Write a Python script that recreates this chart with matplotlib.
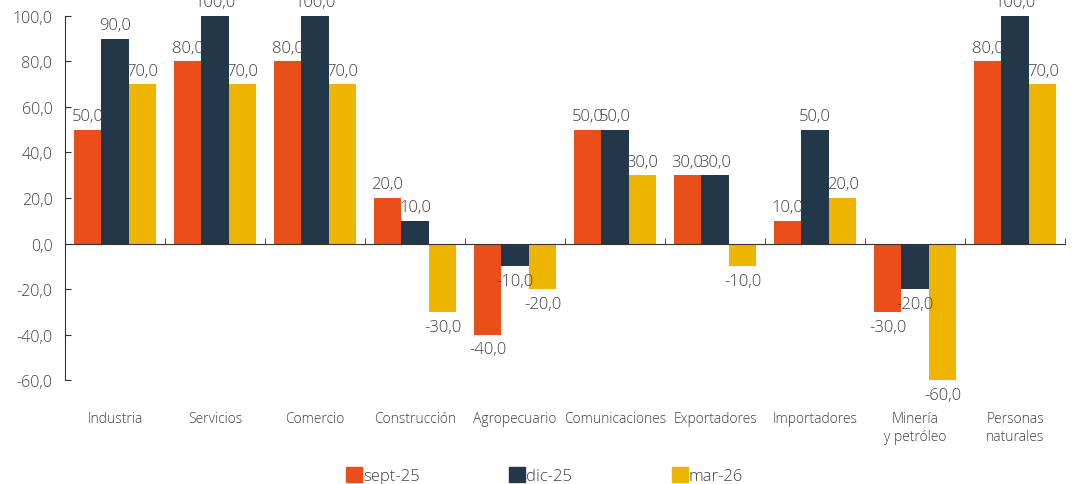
import matplotlib.pyplot as plt
import numpy as np
from matplotlib.patches import Patch

plt.rcParams['font.family'] = ['Open Sans', 'DejaVu Sans']
plt.rcParams['font.weight'] = 'light'

categories = ['Industria', 'Servicios', 'Comercio', 'Construcción', 'Agropecuario',
              'Comunicaciones', 'Exportadores', 'Importadores', 'Minería\ny petróleo',
              'Personas\nnaturales']
series_names = ['sept-25', 'dic-25', 'mar-26']
sept25 = [50, 80, 80, 20, -40, 50, 30, 10, -30, 80]
dic25 = [90, 100, 100, 10, -10, 50, 30, 50, -20, 100]
mar26 = [70, 70, 70, -30, -20, 30, -10, 20, -60, 70]
colors = ['#E94E1B', '#22384A', '#EEB500']
text_color = '#404040'

fig = plt.figure(figsize=(10.72, 4.85), dpi=100)
ax = fig.add_axes([0.0606, 0.2144, 0.9329, 0.7506])

x = np.arange(len(categories))
width = 0.275
offsets = [-width, 0, width]

for vals, off, col in zip([sept25, dic25, mar26], offsets, colors):
    bars = ax.bar(x + off, vals, width, color=col)
    for b, v in zip(bars, vals):
        label = f'{v:.1f}'.replace('.', ',')
        if v >= 0:
            ax.annotate(label, (b.get_x() + b.get_width() / 2, v), xytext=(0, 4),
                        textcoords='offset points', ha='center', va='bottom',
                        fontsize=12, color=text_color)
        else:
            ax.annotate(label, (b.get_x() + b.get_width() / 2, v), xytext=(0, -5),
                        textcoords='offset points', ha='center', va='top',
                        fontsize=12, color=text_color)

ax.set_xlim(-0.5, len(categories) - 0.5)
ax.set_ylim(-60, 100)
ax.set_yticks(np.arange(-60, 101, 20))
ax.set_yticklabels([f'{t:.1f}'.replace('.', ',') for t in np.arange(-60, 101, 20)])
ax.tick_params(axis='y', direction='in', length=4, pad=9, labelsize=11.5,
               labelcolor=text_color, color='#333333')

# x axis line sits at zero, boundary ticks point up
ax.spines['bottom'].set_position(('data', 0))
ax.spines['top'].set_visible(False)
ax.spines['right'].set_visible(False)
ax.spines['left'].set_color('#333333')
ax.spines['bottom'].set_color('#333333')
ax.set_xticks([])
ax.set_xticks(np.arange(-0.5, len(categories), 1), minor=True)
ax.tick_params(axis='x', which='minor', direction='in', length=4, color='#333333')

for xi, cat in zip(x, categories):
    ax.text(xi, -0.085, cat, transform=ax.get_xaxis_transform(), ha='center', va='top',
            fontsize=10, color=text_color, linespacing=1.3)

# one legend per series, evenly spaced like the original
for i, (c, n) in enumerate(zip(colors, series_names)):
    leg = fig.legend(handles=[Patch(color=c, label=n)], loc='center left',
                     bbox_to_anchor=(0.323 + i * 0.152, 0.017), frameon=False,
                     handlelength=0.95, handleheight=0.95, handletextpad=0.05,
                     borderpad=0, borderaxespad=0, fontsize=12, labelcolor=text_color)

fig.savefig('out.png', dpi=100)
